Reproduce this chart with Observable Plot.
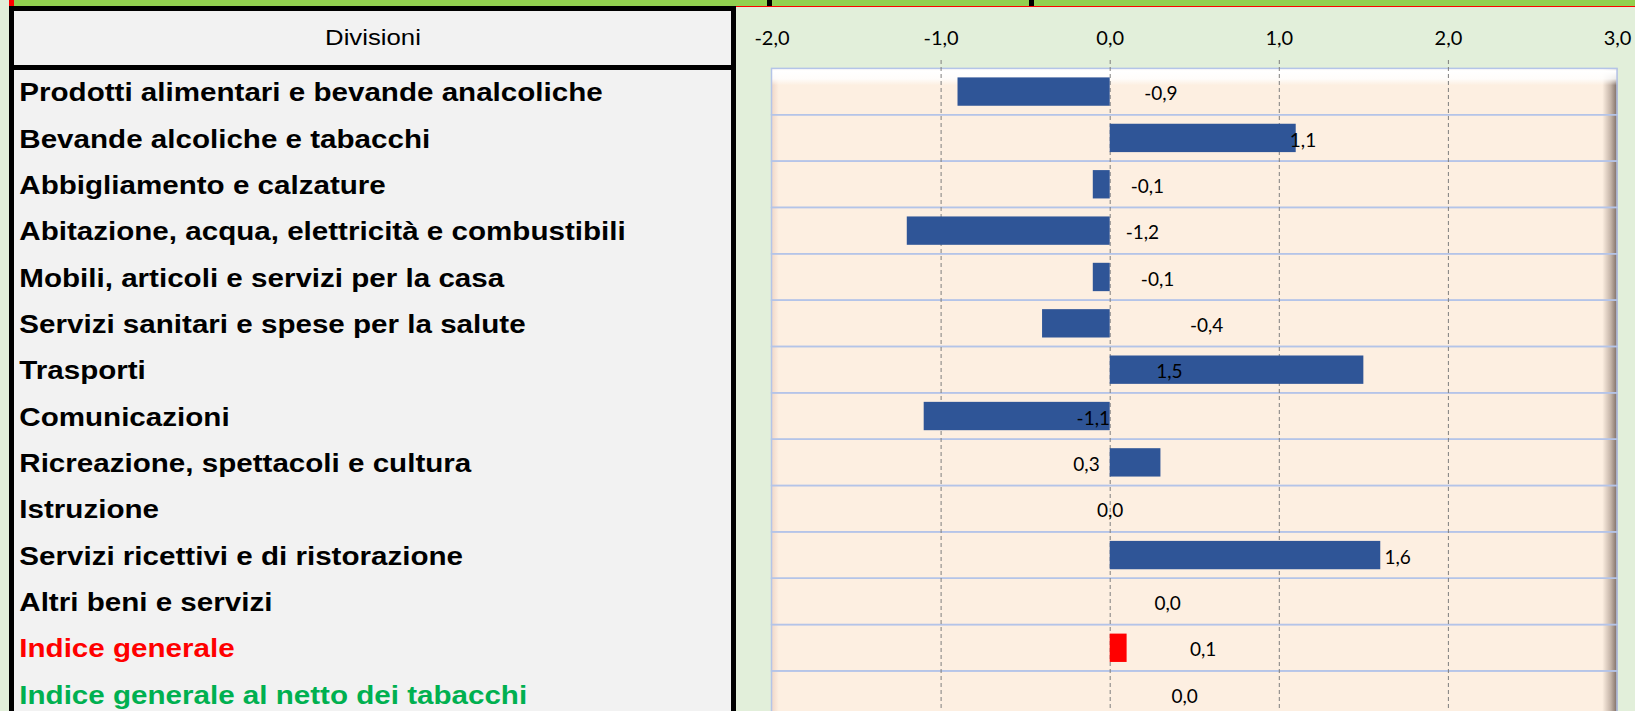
<!DOCTYPE html>
<html>
<head>
<meta charset="utf-8">
<script src="https://cdn.jsdelivr.net/npm/d3@7"></script>
<script src="https://cdn.jsdelivr.net/npm/@observablehq/plot@0.6"></script>
<style>
html, body { margin: 0; padding: 0; overflow: hidden; background: #E2EFDA; }
#wrap { position: relative; width: 1635px; height: 711px; overflow: hidden; }
.abs { position: absolute; }
#header { position: absolute; left: 14px; top: 11px; width: 717px; height: 54px; display: flex; align-items: center; justify-content: center; font-family: "Liberation Sans", Arial, sans-serif; font-size: 22px; color: #000; }
#header span { display: inline-block; transform: scaleX(1.17); }
#chart { position: absolute; left: 0; top: 0; }
</style>
</head>
<body>
<div id="wrap">
  <div class="abs" style="left:0;top:0;width:1635px;height:711px;background:#E2EFDA"></div>
  <div class="abs" style="left:13px;top:0;width:1622px;height:6px;background:#92D050"></div>
  <div class="abs" style="left:9px;top:0;width:5px;height:6px;background:#FF0000"></div>
  <div class="abs" style="left:735px;top:6px;width:900px;height:1px;background:#FF0000"></div>
  <div class="abs" style="left:767px;top:0;width:5px;height:6px;background:#000"></div>
  <div class="abs" style="left:1029px;top:0;width:5px;height:6px;background:#000"></div>
  <div class="abs" style="left:9px;top:6px;width:727px;height:720px;box-sizing:border-box;background:#F2F2F2;border-left:5px solid #000;border-top:5px solid #000;border-right:5px solid #000"></div>
  <div class="abs" style="left:9px;top:65px;width:727px;height:5px;background:#000"></div>
  <div id="header"><span id="headerText"></span></div>
  <div id="chart"></div>
</div>
<script>
const categories = [
  "Prodotti alimentari e bevande analcoliche",
  "Bevande alcoliche e tabacchi",
  "Abbigliamento e calzature",
  "Abitazione, acqua, elettricità e combustibili",
  "Mobili, articoli e servizi per la casa",
  "Servizi sanitari e spese per la salute",
  "Trasporti",
  "Comunicazioni",
  "Ricreazione, spettacoli e cultura",
  "Istruzione",
  "Servizi ricettivi e di ristorazione",
  "Altri beni e servizi",
  "Indice generale",
  "Indice generale al netto dei tabacchi"
];
const values = [-0.9, 1.1, -0.1, -1.2, -0.1, -0.4, 1.5, -1.1, 0.3, 0.0, 1.6, 0.0, 0.1, 0.0];
// where each data label sits along the value axis (as in the original)
const labelAt = [0.30, 1.14, 0.22, 0.19, 0.28, 0.57, 0.35, -0.10, -0.14, 0.0, 1.70, 0.34, 0.55, 0.44];
const barColors = ["#2F5597","#2F5597","#2F5597","#2F5597","#2F5597","#2F5597","#2F5597","#2F5597","#2F5597","#2F5597","#2F5597","#2F5597","#FF0000","#2F5597"];
const nameColors = ["#000000","#000000","#000000","#000000","#000000","#000000","#000000","#000000","#000000","#000000","#000000","#000000","#FF0000","#00B050"];
const xTicks = [-2, -1, 0, 1, 2, 3];
const gridTicks = [-1, 0, 1, 2];
const xDomain = [-2, 3];
const headerLabel = "Divisioni";

document.getElementById("headerText").textContent = headerLabel;

const fmt = d => d.toFixed(1).replace(".", ",");
const data = categories.map((c, i) => ({cat: c, value: values[i], lab: labelAt[i], bar: barColors[i], name: nameColors[i]}));

const plot = Plot.plot({
  width: 1635,
  height: 711,
  marginLeft: 771.5,
  marginRight: 18,
  marginTop: 68,
  marginBottom: 0,
  style: {background: "transparent", fontFamily: "Lato, sans-serif", overflow: "hidden"},
  x: {domain: xDomain},
  y: {type: "band", domain: categories, range: [68.4, 717.3], padding: 0, round: false, axis: null},
  color: {type: "identity"},
  marks: [
    Plot.frame({fill: "#FDEFE1"}),
    Plot.frame({fill: "url(#shadeSide)"}),
    Plot.frame({fill: "url(#bevelTop)"}),
    Plot.barX(data, {x1: xDomain[0], x2: xDomain[1], y: "cat", fill: "none", stroke: "#B4C4E8", strokeWidth: 1.5}),
    Plot.ruleX(gridTicks, {stroke: "#7F7F7F", strokeWidth: 1, strokeDasharray: "4,3", insetTop: -8}),
    Plot.barX(data, {x1: 0, x2: "value", y: "cat", fill: "bar", insetTop: 9, insetBottom: 9}),
    Plot.text(data, {x: "lab", y: "cat", text: d => fmt(d.value), fontSize: 19, fill: "#000", dy: 2, fontFamily: "Lato, sans-serif"}),
    Plot.axisX({ticks: xTicks, anchor: "top", tickSize: 0, tickPadding: 24, tickFormat: fmt, fontSize: 20, fill: "#000", fontFamily: "Lato, sans-serif", label: null}),
    Plot.text(data, {y: "cat", text: "cat", frameAnchor: "left", dx: 18.8 - 771.5, dy: 1, textAnchor: "start", fontSize: 25.5, fontWeight: "bold", fontFamily: "'Liberation Sans', Arial, sans-serif", fill: "name"})
  ]
});

const svg = d3.select(plot);
svg.insert("defs", ":first-child").html(`
  <linearGradient id="bevelTop" x1="0" y1="0" x2="0" y2="1">
    <stop offset="0" stop-color="#FFFFFF" stop-opacity="0.75"/>
    <stop offset="0.004" stop-color="#FFFFFF" stop-opacity="1"/>
    <stop offset="0.016" stop-color="#FFFFFF" stop-opacity="0.85"/>
    <stop offset="0.026" stop-color="#FFFFFF" stop-opacity="0"/>
    <stop offset="1" stop-color="#FFFFFF" stop-opacity="0"/>
  </linearGradient>
  <linearGradient id="shadeSide" x1="0" y1="0" x2="1" y2="0">
    <stop offset="0" stop-color="#E8C8B8" stop-opacity="0.6"/>
    <stop offset="0.008" stop-color="#E8C8B8" stop-opacity="0"/>
    <stop offset="0.982" stop-color="#6E5A50" stop-opacity="0"/>
    <stop offset="0.992" stop-color="#6E5A50" stop-opacity="0.4"/>
    <stop offset="1" stop-color="#5E4E48" stop-opacity="0.85"/>
  </linearGradient>
`);
// widen the row names horizontally, as in the stretched original
const nameSet = new Set(categories);
svg.selectAll("text").each(function() {
  if (!nameSet.has(this.textContent)) return;
  const t = this.getAttribute("transform");
  if (t && t.includes("translate")) {
    this.setAttribute("transform", t + " scale(1.16,1)");
  } else {
    const x = +(this.getAttribute("x") || 0);
    this.setAttribute("transform", `translate(${x},0) scale(1.16,1) translate(${-x},0)` + (t ? " " + t : ""));
  }
});

document.getElementById("chart").appendChild(plot);
</script>
</body>
</html>
